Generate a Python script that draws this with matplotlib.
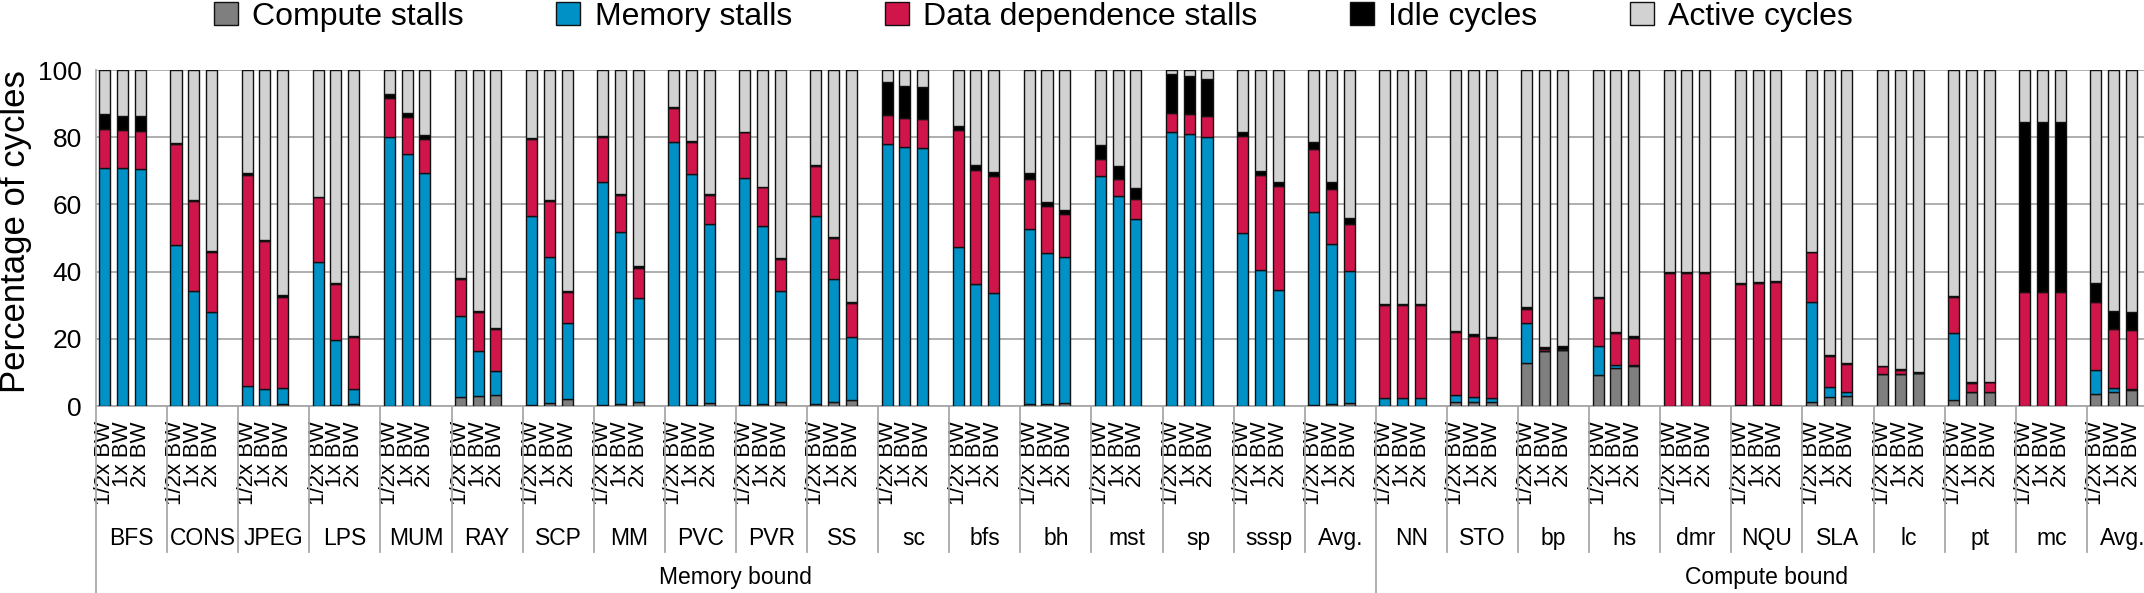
import matplotlib
matplotlib.use("Agg")
import matplotlib.pyplot as plt
from matplotlib.patches import Patch
import numpy as np

plt.rcParams["font.family"] = ["Liberation Sans", "DejaVu Sans"]

benchmarks = ["BFS", "CONS", "JPEG", "LPS", "MUM", "RAY", "SCP", "MM", "PVC", "PVR",
              "SS", "sc", "bfs", "bh", "mst", "sp", "sssp", "Avg.",
              "NN", "STO", "bp", "hs", "dmr", "NQU", "SLA", "lc", "pt", "mc", "Avg."]
n_memory_bound = 18
bw_labels = ["1/2x BW", "1x BW", "2x BW"]

# three bars per benchmark (1/2x, 1x, 2x BW), percentage of cycles
compute = [0, 0, 0,  0, 0, 0,  0, 0, 0.5,  0, 0.3, 0.5,  0, 0, 0,  2.6, 3.0, 3.3,
           0.3, 0.8, 2.1,  0.3, 0.6, 1.3,  0, 0.3, 0.8,  0.3, 0.7, 1.3,  0.5, 1.3, 1.9,
           0, 0, 0,  0, 0, 0,  0.7, 0.7, 0.8,  0, 0, 0,  0, 0, 0,  0, 0, 0,  0.3, 0.6, 0.8,
           0, 0, 0,  1.2, 1.2, 1.1,  12.9, 16.4, 16.6,  9.2, 11.2, 11.8,  0, 0, 0,
           0.4, 0.3, 0.3,  1.2, 2.7, 2.9,  9.5, 9.5, 9.9,  1.7, 4.2, 4.2,  0, 0, 0,
           3.5, 4.3, 4.7]
memory = [70.8, 70.8, 70.6,  48.0, 34.2, 28.0,  5.9, 5.0, 4.9,  42.9, 19.2, 4.5,
          80.2, 75.0, 69.2,  24.2, 13.3, 7.2,  56.3, 43.6, 22.5,  66.5, 51.1, 30.8,
          78.5, 68.8, 53.5,  67.7, 52.8, 32.8,  55.9, 36.5, 18.7,  78.0, 77.2, 76.7,
          47.3, 36.4, 33.5,  52.0, 44.8, 43.5,  68.5, 62.4, 55.6,  81.5, 80.9, 80.2,
          51.5, 40.6, 34.5,  57.4, 47.7, 39.3,
          2.4, 2.4, 2.4,  2.0, 1.4, 1.3,  11.9, 0, 0,  8.7, 1.1, 0.4,  0, 0, 0,
          0, 0, 0,  29.7, 3.0, 1.3,  0, 0, 0,  19.9, 0, 0,  0, 0, 0,  7.3, 1.2, 0.5]
data_dep = [11.7, 11.4, 11.1,  29.9, 26.9, 17.8,  62.9, 44.0, 27.0,  19.2, 16.9, 15.5,
            11.4, 10.9, 10.2,  11.0, 11.7, 12.5,  22.8, 16.7, 9.3,  13.4, 11.2, 9.1,
            10.3, 9.6, 8.6,  13.4, 11.6, 9.7,  15.1, 12.2, 10.1,  8.5, 8.6, 8.8,
            34.9, 33.9, 35.1,  14.9, 13.9, 12.9,  5.1, 5.1, 6.0,  5.6, 5.9, 6.1,
            29.0, 28.2, 31.1,  18.7, 16.4, 14.1,
            27.6, 27.6, 27.6,  18.9, 18.3, 17.9,  4.2, 0.7, 0.5,  14.2, 9.3, 8.1,
            39.7, 39.7, 39.7,  35.8, 36.4, 36.6,  14.8, 9.3, 8.4,  2.3, 1.1, 0,
            10.9, 2.7, 2.8,  34.0, 34.0, 34.0,  20.2, 17.4, 17.4]
idle = [4.4, 4.2, 4.6,  0.3, 0.3, 0.3,  0.5, 0.4, 0.5,  0, 0.3, 0.3,  1.3, 1.2, 1.3,
        0.3, 0.3, 0.3,  0.4, 0.3, 0.3,  0.2, 0.2, 0.4,  0.2, 0.2, 0.2,  0.2, 0.2, 0.3,
        0.2, 0.2, 0.2,  9.9, 9.4, 9.4,  1.2, 1.3, 1.1,  1.7, 1.3, 1.2,  4.1, 4.0, 3.2,
        11.7, 11.4, 11.1,  0.9, 1.0, 1.2,  2.1, 1.9, 1.9,
        0.3, 0.3, 0.3,  0.2, 0.4, 0.3,  0.4, 0.5, 0.7,  0.4, 0.4, 0.4,  0.2, 0.2, 0.2,
        0.3, 0.3, 0.3,  0.2, 0.3, 0.2,  0.2, 0.3, 0.3,  0.2, 0.3, 0.2,  50.5, 50.5, 50.5,
        5.5, 5.5, 5.5]
active = [13.1, 13.6, 13.7,  21.8, 38.6, 53.9,  30.7, 50.6, 67.1,  37.9, 63.3, 79.2,
          7.1, 12.9, 19.3,  61.9, 71.7, 76.7,  20.2, 38.6, 65.8,  19.6, 36.9, 58.4,
          11.0, 21.1, 36.9,  18.4, 34.7, 55.9,  28.3, 49.8, 69.1,  3.6, 4.8, 5.1,
          16.6, 28.4, 30.3,  30.7, 39.3, 41.6,  22.3, 28.5, 35.2,  1.2, 1.8, 2.6,
          18.6, 30.2, 33.2,  21.5, 33.4, 43.9,
          69.7, 69.7, 69.7,  77.7, 78.7, 79.4,  70.6, 82.4, 82.2,  67.5, 78.0, 79.3,
          60.1, 60.1, 60.1,  63.5, 63.0, 62.8,  54.1, 84.7, 87.2,  88.0, 89.1, 89.8,
          67.3, 92.8, 92.8,  15.5, 15.5, 15.5,  63.5, 71.6, 71.9]

series = [("Compute stalls", compute, "#7f7f7f"),
          ("Memory stalls", memory, "#0091c7"),
          ("Data dependence stalls", data_dep, "#d0154b"),
          ("Idle cycles", idle, "#000000"),
          ("Active cycles", active, "#d2d2d2")]

n_groups = len(benchmarks)
slots = 4  # three bars plus an empty slot per benchmark
x = np.array([g * slots + b + 0.5 for g in range(n_groups) for b in range(3)])

fig = plt.figure(figsize=(21.44, 5.93), dpi=100)
ax = fig.add_axes([96 / 2144, 187 / 593, 2062 / 2144, 336 / 593])

bottom = np.zeros(len(x))
for name, vals, color in series:
    vals = np.array(vals)
    ax.bar(x, vals, width=0.62, bottom=bottom, color=color,
           edgecolor="#111111", linewidth=1.0, zorder=3)
    bottom += vals

grid_c = "#a8a8a8"
ax.set_xlim(0, n_groups * slots)
ax.set_ylim(0, 100)
ax.set_yticks(range(0, 101, 20))
ax.yaxis.grid(True, color=grid_c, linewidth=1.3, zorder=0)
ax.tick_params(axis="y", length=0, labelsize=19, pad=10)
for s in ["top", "right"]:
    ax.spines[s].set_visible(False)
for s in ["left", "bottom"]:
    ax.spines[s].set_color(grid_c)
    ax.spines[s].set_linewidth(1.3)

ax.set_xticks(x)
ax.set_xticklabels(bw_labels * n_groups, rotation=90, fontsize=16)
ax.tick_params(axis="x", length=0, pad=11)

trans = ax.get_xaxis_transform()
for g, name in enumerate(benchmarks):
    ax.text(g * slots + slots / 2, -0.395, name, transform=trans,
            ha="center", va="center", fontsize=16.5)

for g in range(n_groups + 1):
    long = g in (0, n_memory_bound, n_groups)
    ax.plot([g * slots, g * slots], [0, -0.557 if long else -0.435],
            transform=trans, color=grid_c, linewidth=1.3, clip_on=False)

ax.text(n_memory_bound * slots / 2, -0.509, "Memory bound", transform=trans,
        ha="center", va="center", fontsize=16.5)
ax.text((n_memory_bound + n_groups) * slots / 2, -0.509, "Compute bound",
        transform=trans, ha="center", va="center", fontsize=16.5)

fig.text(16 / 2144, 0.61, "Percentage of cycles", rotation=90,
         ha="center", va="center", fontsize=25)

handles = [Patch(facecolor=c, edgecolor="#111111", linewidth=1.0, label=n)
           for n, _, c in series]
fig.legend(handles=handles, loc="center", bbox_to_anchor=(0.482, 0.972), ncol=5,
           frameon=False, fontsize=23, handlelength=0.75, handleheight=0.75,
           handletextpad=0.45, columnspacing=2.9, borderpad=0)

fig.savefig("out.png", dpi=100)
